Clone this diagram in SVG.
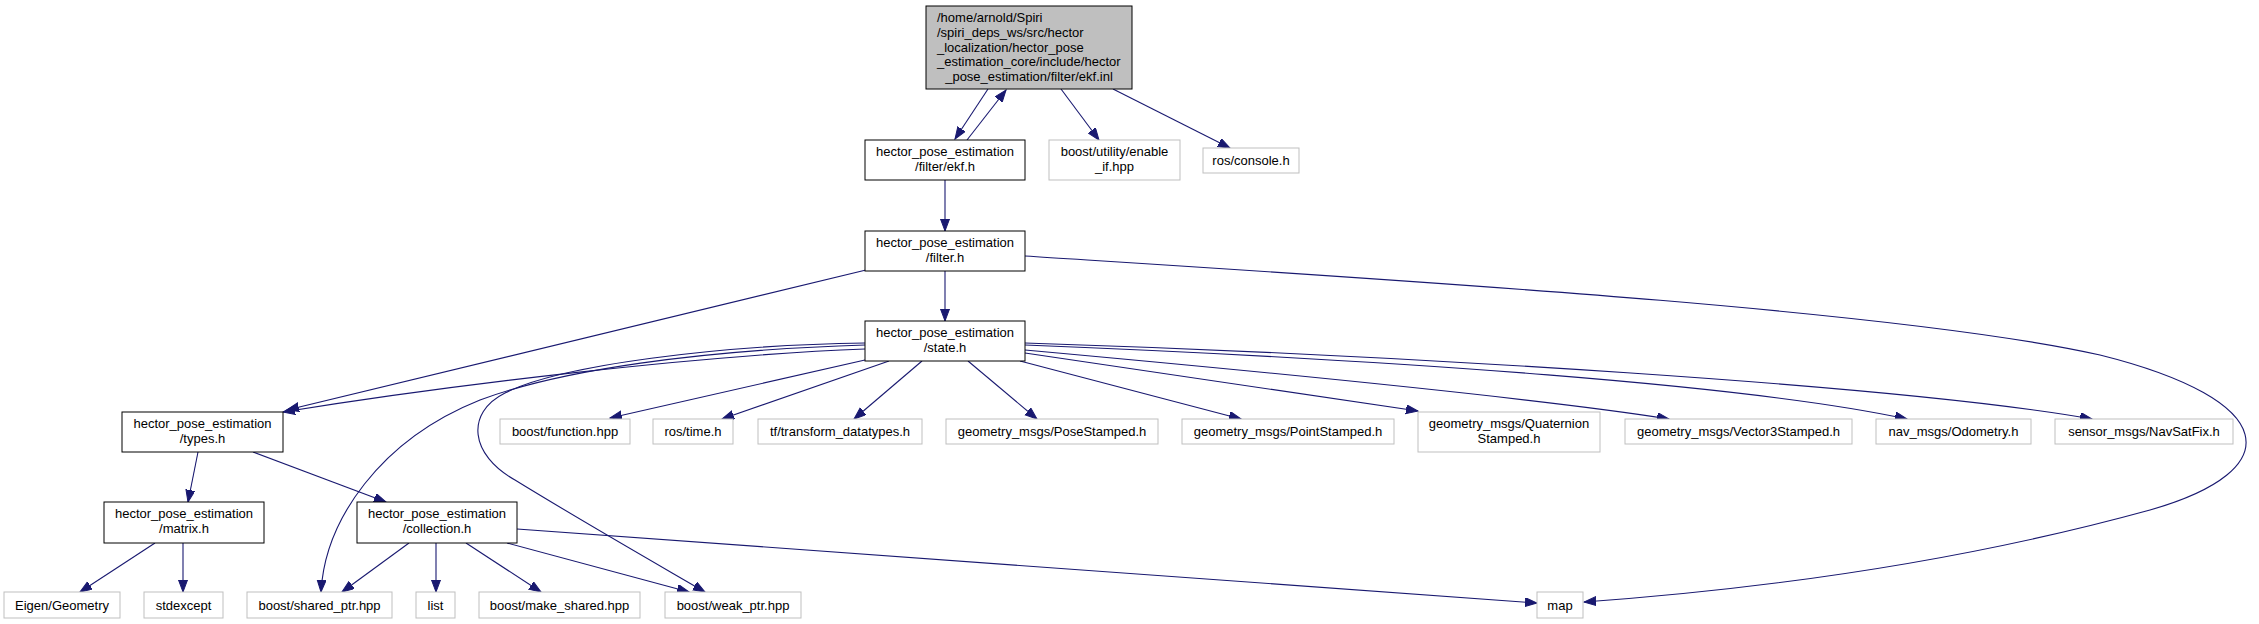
<svg xmlns="http://www.w3.org/2000/svg" width="2259" height="624" viewBox="0 0 2259 624">
<style>
text{font-family:"Liberation Sans",Arial,sans-serif;font-size:13px;fill:#000;text-anchor:middle}
.n rect{fill:#fff;stroke:#000;stroke-width:1}
.x rect{fill:#fff;stroke:#bfbfbf;stroke-width:1}
.root rect{fill:#bfbfbf;stroke:#000;stroke-width:1}
.root text.l{text-anchor:start}
#edges path{fill:none;stroke:#191970;stroke-width:1.1;marker-end:url(#ah)}
</style>
<defs>
<marker id="ah" markerUnits="userSpaceOnUse" markerWidth="13" markerHeight="10" refX="12" refY="4.5" orient="auto">
<path d="M0,0 L12,4.5 L0,9 z" fill="#191970" stroke="#191970" stroke-width="1"/>
</marker>
</defs>
<rect width="2259" height="624" fill="#fff"/>
<g id="edges">
<path d="M988,89 L955,139"/>
<path d="M967,140 L1006,90"/>
<path d="M1061,89 L1099,140"/>
<path d="M1113,89 L1230,148"/>
<path d="M945,180 L945,231"/>
<path d="M945,271 L945,321"/>
<path d="M866,270 L287,410"/>
<path d="M1025,256 C1400,280 1900,310 2100,355 C2280,400 2290,470 2150,510 C1950,565 1750,590 1584,602"/>
<path d="M865,349 C700,355 450,385 283,412"/>
<path d="M865,345 C700,350 560,370 480,400 C380,440 325,520 321,592"/>
<path d="M865,343 C720,345 560,365 505,393 C465,413 470,455 515,480 C580,520 650,560 705,592"/>
<path d="M865,360 L610,418"/>
<path d="M889,361 L722,419"/>
<path d="M922,361 L854,419"/>
<path d="M968,361 L1037,419"/>
<path d="M1020,361 L1241,419"/>
<path d="M1025,353 L1418,411"/>
<path d="M1025,350 C1300,375 1550,400 1669,419"/>
<path d="M1025,345 C1400,360 1750,385 1907,419"/>
<path d="M1025,343 C1400,355 1900,385 2092,419"/>
<path d="M198,452 L188,502"/>
<path d="M253,452 L386,502"/>
<path d="M155,543 L80,592"/>
<path d="M183,543 L183,592"/>
<path d="M409,543 L342,592"/>
<path d="M436,543 L436,592"/>
<path d="M466,543 L541,592"/>
<path d="M507,543 L689,592"/>
<path d="M517,529 L1537,603"/>
</g>
<g id="node_root" class="root">
<rect x="926" y="6" width="206" height="83"/>
<text class="l" x="937" y="22">/home/arnold/Spiri</text>
<text class="l" x="937" y="37">/spiri_deps_ws/src/hector</text>
<text class="l" x="937" y="51.5">_localization/hector_pose</text>
<text class="l" x="937" y="66">_estimation_core/include/hector</text>
<text x="1029" y="81">_pose_estimation/filter/ekf.inl</text>
</g>
<g id="node_ekf" class="n">
<rect x="865" y="140" width="160" height="40"/>
<text x="945" y="156">hector_pose_estimation</text>
<text x="945" y="170.5">/filter/ekf.h</text>
</g>
<g id="node_enable_if" class="x">
<rect x="1049" y="140" width="131" height="40"/>
<text x="1114.5" y="156">boost/utility/enable</text>
<text x="1114.5" y="170.5">_if.hpp</text>
</g>
<g id="node_console" class="x">
<rect x="1203" y="148" width="96" height="25"/>
<text x="1251" y="165">ros/console.h</text>
</g>
<g id="node_filter" class="n">
<rect x="865" y="231" width="160" height="40"/>
<text x="945" y="247">hector_pose_estimation</text>
<text x="945" y="261.5">/filter.h</text>
</g>
<g id="node_state" class="n">
<rect x="865" y="321" width="160" height="40"/>
<text x="945" y="337">hector_pose_estimation</text>
<text x="945" y="351.5">/state.h</text>
</g>
<g id="node_types" class="n">
<rect x="122" y="412" width="161" height="40"/>
<text x="202.5" y="428">hector_pose_estimation</text>
<text x="202.5" y="442.5">/types.h</text>
</g>
<g id="node_function" class="x">
<rect x="500" y="419" width="130" height="25"/>
<text x="565" y="436">boost/function.hpp</text>
</g>
<g id="node_time" class="x">
<rect x="653" y="419" width="80" height="25"/>
<text x="693" y="436">ros/time.h</text>
</g>
<g id="node_tf" class="x">
<rect x="758" y="419" width="164" height="25"/>
<text x="840" y="436">tf/transform_datatypes.h</text>
</g>
<g id="node_pose" class="x">
<rect x="946" y="419" width="212" height="25"/>
<text x="1052" y="436">geometry_msgs/PoseStamped.h</text>
</g>
<g id="node_point" class="x">
<rect x="1182" y="419" width="212" height="25"/>
<text x="1288" y="436">geometry_msgs/PointStamped.h</text>
</g>
<g id="node_quat" class="x">
<rect x="1418" y="412" width="182" height="40"/>
<text x="1509" y="428">geometry_msgs/Quaternion</text>
<text x="1509" y="442.5">Stamped.h</text>
</g>
<g id="node_vector3" class="x">
<rect x="1625" y="419" width="227" height="25"/>
<text x="1738.5" y="436">geometry_msgs/Vector3Stamped.h</text>
</g>
<g id="node_odometry" class="x">
<rect x="1876" y="419" width="155" height="25"/>
<text x="1953.5" y="436">nav_msgs/Odometry.h</text>
</g>
<g id="node_navsat" class="x">
<rect x="2055" y="419" width="178" height="25"/>
<text x="2144" y="436">sensor_msgs/NavSatFix.h</text>
</g>
<g id="node_matrix" class="n">
<rect x="104" y="502" width="160" height="41"/>
<text x="184" y="518">hector_pose_estimation</text>
<text x="184" y="532.5">/matrix.h</text>
</g>
<g id="node_collection" class="n">
<rect x="357" y="502" width="160" height="41"/>
<text x="437" y="518">hector_pose_estimation</text>
<text x="437" y="532.5">/collection.h</text>
</g>
<g id="node_eigen" class="x">
<rect x="4" y="592" width="116" height="26"/>
<text x="62" y="609.5">Eigen/Geometry</text>
</g>
<g id="node_stdexcept" class="x">
<rect x="144" y="592" width="79" height="26"/>
<text x="183.5" y="609.5">stdexcept</text>
</g>
<g id="node_shared_ptr" class="x">
<rect x="247" y="592" width="145" height="26"/>
<text x="319.5" y="609.5">boost/shared_ptr.hpp</text>
</g>
<g id="node_list" class="x">
<rect x="416" y="592" width="39" height="26"/>
<text x="435.5" y="609.5">list</text>
</g>
<g id="node_make_shared" class="x">
<rect x="479" y="592" width="161" height="26"/>
<text x="559.5" y="609.5">boost/make_shared.hpp</text>
</g>
<g id="node_weak_ptr" class="x">
<rect x="665" y="592" width="136" height="26"/>
<text x="733" y="609.5">boost/weak_ptr.hpp</text>
</g>
<g id="node_map" class="x">
<rect x="1537" y="592" width="46" height="26"/>
<text x="1560" y="609.5">map</text>
</g>
</svg>
